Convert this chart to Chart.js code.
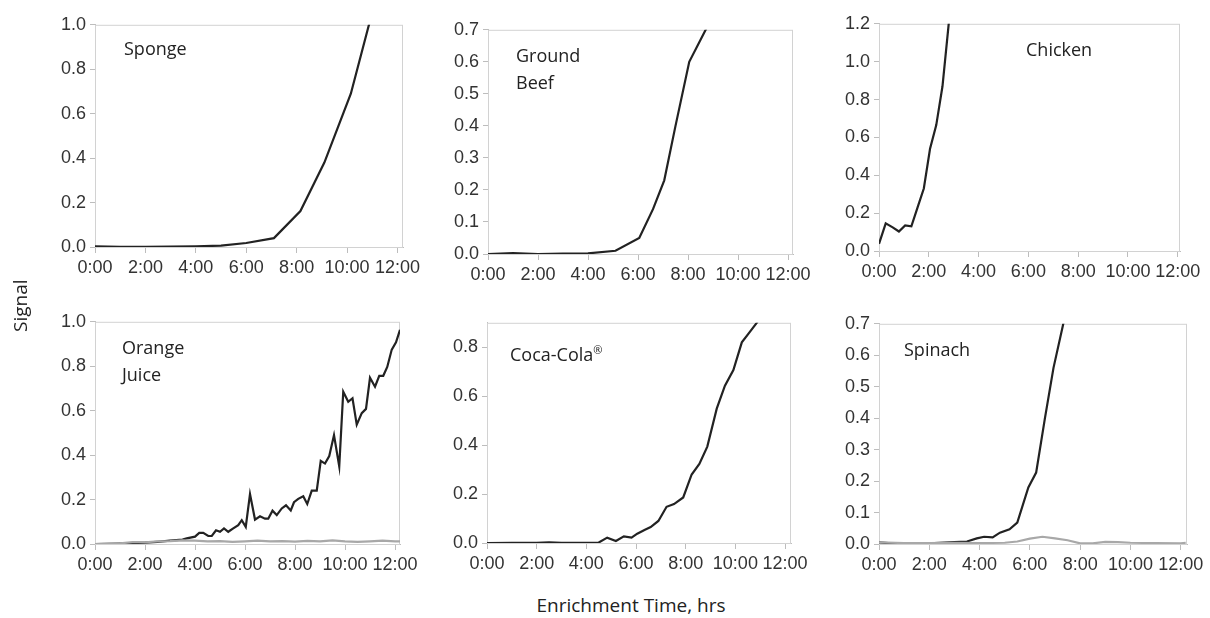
<!DOCTYPE html>
<html>
<head>
<meta charset="utf-8">
<script src="https://cdn.jsdelivr.net/npm/chart.js@4.4.1/dist/chart.umd.min.js"></script>
<style>
  body { margin: 0; background: #fff; }
  #wrap { position: relative; width: 1210px; height: 618px; overflow: hidden; }
  canvas { position: absolute; }
  .lbl { position: absolute; font-family: "Open Sans", sans-serif; font-size: 18px; color: #222; line-height: 27px; white-space: nowrap; }
</style>
</head>
<body>
<div id="wrap">
  <canvas id="c1"></canvas><canvas id="c2"></canvas><canvas id="c3"></canvas>
  <canvas id="c4"></canvas><canvas id="c5"></canvas><canvas id="c6"></canvas>
  <div class="lbl" style="left:124px;top:35px">Sponge</div>
  <div class="lbl" style="left:516px;top:42px">Ground<br>Beef</div>
  <div class="lbl" style="left:1026px;top:36px">Chicken</div>
  <div class="lbl" style="left:122px;top:334px">Orange<br>Juice</div>
  <div class="lbl" style="left:510px;top:336px">Coca-Cola<sup style="font-size:11px">®</sup></div>
  <div class="lbl" style="left:904px;top:336px">Spinach</div>
  <div class="lbl" style="left:6px;top:318px;transform:translate(0,-50%) rotate(-90deg);transform-origin:center;font-size:19px;width:28px;text-align:center;line-height:28px">
    <span style="display:inline-block">Signal</span></div>
  <div class="lbl" style="left:0;width:1262px;top:592px;text-align:center;font-size:19px">Enrichment Time, hrs</div>
</div>
<script>
// time in hours, signal values
var spongeT = [0, 1, 2, 3, 4, 5, 6, 7.1, 8.15, 9.1, 10.15, 11.1];
var spongeY = [0.003, 0.001, 0.001, 0.002, 0.003, 0.006, 0.018, 0.04, 0.162, 0.38, 0.69, 1.1];

var beefT = [0, 1, 2, 3, 4, 5.1, 6.05, 6.6, 7.05, 7.5, 8.05, 9.1];
var beefY = [0, 0.003, 0, 0.001, 0.002, 0.01, 0.05, 0.14, 0.23, 0.4, 0.6, 0.76];

var chickenT = [0, 0.27, 0.55, 0.8, 1.05, 1.3, 1.55, 1.8, 2.05, 2.3, 2.55, 2.8, 3.05];
var chickenY = [0.038, 0.146, 0.125, 0.103, 0.135, 0.13, 0.23, 0.33, 0.54, 0.665, 0.87, 1.2, 1.6];

var ojT = [0, 1, 2, 2.5, 3, 3.5, 3.67, 4.0, 4.17, 4.33, 4.53, 4.67, 4.84, 5.0, 5.16, 5.33, 5.53, 5.73, 5.87, 6.03,
  6.2, 6.4, 6.6, 6.8, 6.93, 7.1, 7.27, 7.47, 7.64, 7.83, 7.96, 8.13, 8.33, 8.49, 8.67, 8.87, 9.03, 9.2, 9.37,
  9.56, 9.77, 9.93, 10.13, 10.3, 10.47, 10.67, 10.84, 11.0, 11.2, 11.37, 11.53, 11.69, 11.87, 12.04, 12.2];
var ojY = [0, 0.002, 0.006, 0.01, 0.015, 0.02, 0.025, 0.033, 0.05, 0.05, 0.036, 0.036, 0.062, 0.055, 0.07, 0.055,
  0.07, 0.085, 0.107, 0.077, 0.225, 0.11, 0.125, 0.114, 0.114, 0.15, 0.13, 0.16, 0.174, 0.151, 0.188, 0.203,
  0.215, 0.18, 0.24, 0.24, 0.374, 0.362, 0.396, 0.49, 0.349, 0.685, 0.64, 0.656, 0.537, 0.589, 0.608, 0.748,
  0.708, 0.757, 0.757, 0.797, 0.875, 0.908, 0.964];
var ojCtrlT = [0, 1, 1.5, 2, 2.5, 3, 3.5, 4, 4.5, 5, 5.5, 6, 6.5, 7, 7.5, 8, 8.5, 9, 9.5, 10, 10.5, 11, 11.5, 12, 12.2];
var ojCtrlY = [0, 0.003, 0.008, 0.008, 0.012, 0.013, 0.016, 0.015, 0.012, 0.013, 0.01, 0.012, 0.015, 0.012, 0.013,
  0.011, 0.014, 0.012, 0.016, 0.012, 0.01, 0.012, 0.015, 0.012, 0.012];

var cokeT = [0, 1, 2, 2.5, 3, 4, 4.5, 4.84, 5.19, 5.51, 5.82, 6.05, 6.36, 6.59, 6.9, 7.23, 7.53, 7.9, 8.24, 8.55,
  8.87, 9.25, 9.58, 9.92, 10.26, 10.56, 10.86, 11.2];
var cokeY = [0, 0.001, 0.001, 0.003, 0.001, 0.001, 0.002, 0.022, 0.008, 0.027, 0.022, 0.038, 0.054, 0.065, 0.09,
  0.148, 0.159, 0.186, 0.28, 0.323, 0.394, 0.549, 0.643, 0.707, 0.82, 0.86, 0.9, 0.95];

var spinachT = [0, 0.5, 1, 2, 3, 3.5, 3.89, 4.18, 4.52, 4.81, 5.19, 5.5, 5.94, 6.25, 6.6, 6.94, 7.33, 7.6];
var spinachY = [0.005, 0.002, 0.003, 0.002, 0.006, 0.008, 0.018, 0.023, 0.021, 0.036, 0.047, 0.068, 0.18, 0.227,
  0.4, 0.56, 0.7, 0.8];
var spinachCtrlT = [0, 1, 2, 3, 4, 5, 5.5, 6, 6.5, 7, 7.5, 8, 8.5, 9, 9.5, 10, 11, 12, 12.2];
var spinachCtrlY = [0.005, 0.003, 0.003, 0.004, 0.003, 0.004, 0.008, 0.017, 0.023, 0.018, 0.012, 0.002, 0.002,
  0.007, 0.006, 0.004, 0.003, 0.002, 0.004];

var xTicks = [0, 2, 4, 6, 8, 10, 12];

function pts(t, y) {
  return t.map(function (v, i) { return { x: v, y: y[i] }; });
}

// light grey frame round the plot area
var framePlugin = {
  id: 'frame',
  beforeDatasetsDraw: function (chart) {
    var a = chart.chartArea, ctx = chart.ctx;
    ctx.save();
    ctx.strokeStyle = '#d2d2d2';
    ctx.lineWidth = 1;
    ctx.strokeRect(a.left + 0.5, a.top + 0.5, a.right - a.left - 1, a.bottom - a.top);
    ctx.restore();
  }
};

var YW = 64, XH = 42, PT = 12, PR = 30;
var tickFont = { family: "Arial, 'Liberation Sans', sans-serif", size: 18 };

function panel(id, area, xMax, yMax, yStep, lines) {
  var cv = document.getElementById(id);
  var w = area.r - area.l + YW + PR, h = area.b - area.t + PT + XH;
  cv.width = w; cv.height = h;
  cv.style.left = (area.l - YW) + 'px';
  cv.style.top = (area.t - PT) + 'px';
  cv.style.width = w + 'px'; cv.style.height = h + 'px';
  var ds = lines.map(function (l) {
    return { data: pts(l.t, l.y), borderColor: l.c, borderWidth: 2.2, pointRadius: 0, tension: 0 };
  });
  return new Chart(cv, {
    type: 'line',
    data: { datasets: ds },
    plugins: [framePlugin],
    options: {
      responsive: false,
      animation: false,
      layout: { padding: { top: PT, right: PR, left: 0, bottom: 0 } },
      plugins: { legend: { display: false }, tooltip: { enabled: false } },
      scales: {
        x: {
          type: 'linear', min: 0, max: xMax,
          afterFit: function (s) { s.height = XH; },
          afterBuildTicks: function (s) { s.ticks = xTicks.map(function (v) { return { value: v }; }); },
          grid: { drawOnChartArea: false, color: '#bdbdbd', tickLength: 6 },
          border: { color: '#bdbdbd' },
          ticks: {
            maxRotation: 0, autoSkip: false, padding: 4, color: '#333',
            font: tickFont,
            callback: function (v) { return Math.round(v) + ':00'; }
          }
        },
        y: {
          min: 0, max: yMax,
          afterFit: function (s) { s.width = YW; },
          grid: { drawOnChartArea: false, color: '#bdbdbd', tickLength: 5 },
          border: { color: '#bdbdbd' },
          ticks: {
            stepSize: yStep, includeBounds: false, padding: 4, color: '#333',
            font: tickFont,
            callback: function (v) { return v.toFixed(1); }
          }
        }
      }
    }
  });
}

var BLACK = '#222', GREY = '#a8a8a8';

panel('c1', { l: 95, t: 22, r: 403, b: 247 }, 12.22, 1.0, 0.2,
  [{ t: spongeT, y: spongeY, c: BLACK }]);
panel('c2', { l: 488, t: 27, r: 793, b: 254 }, 12.2, 0.7, 0.1,
  [{ t: beefT, y: beefY, c: BLACK }]);
panel('c3', { l: 879, t: 21, r: 1180, b: 251 }, 12.09, 1.2, 0.2,
  [{ t: chickenT, y: chickenY, c: BLACK }]);
panel('c4', { l: 95, t: 319, r: 400, b: 544 }, 12.2, 1.0, 0.2,
  [{ t: ojCtrlT, y: ojCtrlY, c: GREY }, { t: ojT, y: ojY, c: BLACK }]);
panel('c5', { l: 487, t: 320, r: 791, b: 543 }, 12.24, 0.9, 0.2,
  [{ t: cokeT, y: cokeY, c: BLACK }]);
panel('c6', { l: 879, t: 321, r: 1187, b: 544 }, 12.25, 0.7, 0.1,
  [{ t: spinachCtrlT, y: spinachCtrlY, c: GREY }, { t: spinachT, y: spinachY, c: BLACK }]);
</script>
</body>
</html>
